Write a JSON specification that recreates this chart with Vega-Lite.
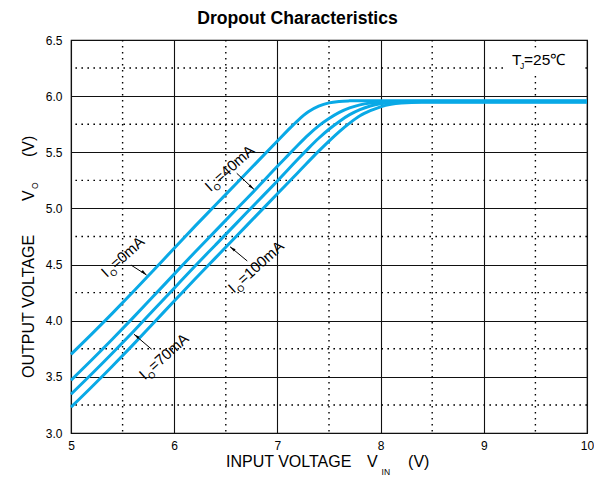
{
  "$schema": "https://vega.github.io/schema/vega-lite/v6.json",
  "width": 516,
  "height": 393,
  "autosize": "none",
  "padding": {"left": 71, "top": 40, "right": 7, "bottom": 48},
  "background": "white",
  "config": {
    "font": "Liberation Sans",
    "view": {"stroke": "#000", "strokeWidth": 1.2},
    "axis": {"domain": false, "ticks": false, "grid": true, "gridColor": "#111", "gridWidth": 1.1, "gridOpacity": 1, "labelFont": "Liberation Sans", "labelFontSize": 12, "labelColor": "#000", "labelFlush": false},
    "axisX": {"labelPadding": 7},
    "axisY": {"labelPadding": 9}
  },
  "datasets": {
    "minorX": [{"mx": 5.5}, {"mx": 6.5}, {"mx": 7.5}, {"mx": 8.5}, {"mx": 9.5}],
    "minorY": [{"my": 3.25}, {"my": 3.75}, {"my": 4.25}, {"my": 4.75}, {"my": 5.25}, {"my": 5.75}, {"my": 6.25}],
    "box": [{"bx1": 9.2, "bx2": 9.95, "by1": 6.19, "by2": 6.43}],
    "curves": [
      {"series": "0mA", "vin": 5.0, "vout": 3.70}, {"series": "0mA", "vin": 5.2, "vout": 3.88}, {"series": "0mA", "vin": 5.4, "vout": 4.065}, {"series": "0mA", "vin": 5.6, "vout": 4.255}, {"series": "0mA", "vin": 5.8, "vout": 4.45}, {"series": "0mA", "vin": 6.0, "vout": 4.645}, {"series": "0mA", "vin": 6.2, "vout": 4.84}, {"series": "0mA", "vin": 6.4, "vout": 5.03}, {"series": "0mA", "vin": 6.6, "vout": 5.22}, {"series": "0mA", "vin": 6.8, "vout": 5.41}, {"series": "0mA", "vin": 7.0, "vout": 5.60}, {"series": "0mA", "vin": 7.1, "vout": 5.695}, {"series": "0mA", "vin": 7.2, "vout": 5.785}, {"series": "0mA", "vin": 7.3, "vout": 5.86}, {"series": "0mA", "vin": 7.4, "vout": 5.91}, {"series": "0mA", "vin": 7.5, "vout": 5.94}, {"series": "0mA", "vin": 7.6, "vout": 5.953}, {"series": "0mA", "vin": 7.7, "vout": 5.958}, {"series": "0mA", "vin": 7.8, "vout": 5.96}, {"series": "0mA", "vin": 8.5, "vout": 5.96}, {"series": "0mA", "vin": 10.0, "vout": 5.96},
      {"series": "40mA", "vin": 5.0, "vout": 3.47}, {"series": "40mA", "vin": 5.2, "vout": 3.65}, {"series": "40mA", "vin": 5.4, "vout": 3.835}, {"series": "40mA", "vin": 5.6, "vout": 4.025}, {"series": "40mA", "vin": 5.8, "vout": 4.22}, {"series": "40mA", "vin": 6.0, "vout": 4.415}, {"series": "40mA", "vin": 6.2, "vout": 4.61}, {"series": "40mA", "vin": 6.4, "vout": 4.80}, {"series": "40mA", "vin": 6.6, "vout": 4.99}, {"series": "40mA", "vin": 6.8, "vout": 5.18}, {"series": "40mA", "vin": 7.0, "vout": 5.375}, {"series": "40mA", "vin": 7.1, "vout": 5.47}, {"series": "40mA", "vin": 7.2, "vout": 5.565}, {"series": "40mA", "vin": 7.3, "vout": 5.655}, {"series": "40mA", "vin": 7.4, "vout": 5.735}, {"series": "40mA", "vin": 7.5, "vout": 5.80}, {"series": "40mA", "vin": 7.6, "vout": 5.855}, {"series": "40mA", "vin": 7.7, "vout": 5.895}, {"series": "40mA", "vin": 7.8, "vout": 5.922}, {"series": "40mA", "vin": 7.9, "vout": 5.938}, {"series": "40mA", "vin": 8.0, "vout": 5.947}, {"series": "40mA", "vin": 8.2, "vout": 5.953}, {"series": "40mA", "vin": 8.5, "vout": 5.955}, {"series": "40mA", "vin": 10.0, "vout": 5.955},
      {"series": "70mA", "vin": 5.0, "vout": 3.345}, {"series": "70mA", "vin": 5.2, "vout": 3.525}, {"series": "70mA", "vin": 5.4, "vout": 3.71}, {"series": "70mA", "vin": 5.6, "vout": 3.90}, {"series": "70mA", "vin": 5.8, "vout": 4.095}, {"series": "70mA", "vin": 6.0, "vout": 4.29}, {"series": "70mA", "vin": 6.2, "vout": 4.485}, {"series": "70mA", "vin": 6.4, "vout": 4.675}, {"series": "70mA", "vin": 6.6, "vout": 4.865}, {"series": "70mA", "vin": 6.8, "vout": 5.055}, {"series": "70mA", "vin": 7.0, "vout": 5.245}, {"series": "70mA", "vin": 7.2, "vout": 5.44}, {"series": "70mA", "vin": 7.3, "vout": 5.535}, {"series": "70mA", "vin": 7.4, "vout": 5.625}, {"series": "70mA", "vin": 7.5, "vout": 5.705}, {"series": "70mA", "vin": 7.6, "vout": 5.775}, {"series": "70mA", "vin": 7.7, "vout": 5.835}, {"series": "70mA", "vin": 7.8, "vout": 5.88}, {"series": "70mA", "vin": 7.9, "vout": 5.912}, {"series": "70mA", "vin": 8.0, "vout": 5.932}, {"series": "70mA", "vin": 8.1, "vout": 5.943}, {"series": "70mA", "vin": 8.3, "vout": 5.95}, {"series": "70mA", "vin": 10.0, "vout": 5.95},
      {"series": "100mA", "vin": 5.0, "vout": 3.23}, {"series": "100mA", "vin": 5.2, "vout": 3.41}, {"series": "100mA", "vin": 5.4, "vout": 3.595}, {"series": "100mA", "vin": 5.6, "vout": 3.785}, {"series": "100mA", "vin": 5.8, "vout": 3.98}, {"series": "100mA", "vin": 6.0, "vout": 4.175}, {"series": "100mA", "vin": 6.2, "vout": 4.37}, {"series": "100mA", "vin": 6.4, "vout": 4.56}, {"series": "100mA", "vin": 6.6, "vout": 4.75}, {"series": "100mA", "vin": 6.8, "vout": 4.94}, {"series": "100mA", "vin": 7.0, "vout": 5.13}, {"series": "100mA", "vin": 7.2, "vout": 5.32}, {"series": "100mA", "vin": 7.4, "vout": 5.51}, {"series": "100mA", "vin": 7.5, "vout": 5.60}, {"series": "100mA", "vin": 7.6, "vout": 5.685}, {"series": "100mA", "vin": 7.7, "vout": 5.76}, {"series": "100mA", "vin": 7.8, "vout": 5.825}, {"series": "100mA", "vin": 7.9, "vout": 5.87}, {"series": "100mA", "vin": 8.0, "vout": 5.905}, {"series": "100mA", "vin": 8.1, "vout": 5.927}, {"series": "100mA", "vin": 8.2, "vout": 5.938}, {"series": "100mA", "vin": 8.4, "vout": 5.945}, {"series": "100mA", "vin": 10.0, "vout": 5.945}
    ],
    "labels": [
      {"lx": 5.347, "ly": 4.381, "rest": "=0mA"},
      {"lx": 6.351, "ly": 5.145, "rest": "=40mA"},
      {"lx": 6.578, "ly": 4.241, "rest": "=100mA"},
      {"lx": 5.715, "ly": 3.468, "rest": "=70mA"}
    ],
    "arrows": [
      {"ax": 5.581, "ay": 4.496, "bx": 5.732, "by": 4.407, "dir": "dr"},
      {"ax": 6.606, "ay": 5.313, "bx": 6.773, "by": 5.17, "dir": "dr"},
      {"ax": 6.708, "ay": 4.532, "bx": 6.541, "by": 4.659, "dir": "ul"},
      {"ax": 5.782, "ay": 3.745, "bx": 5.61, "by": 3.88, "dir": "ul"}
    ],
    "notes": [
      {"nx": 7.195, "ny": 6.642, "txt": "Dropout Characteristics", "role": "ti"},
      {"nx": 6.502, "ny": 2.697, "txt": "INPUT VOLTAGE", "role": "xt"},
      {"nx": 7.868, "ny": 2.697, "txt": "V", "role": "xt"},
      {"nx": 8.266, "ny": 2.697, "txt": "(V)", "role": "xt"},
      {"nx": 8.009, "ny": 2.63, "txt": "IN", "role": "xs"},
      {"nx": 4.641, "ny": 3.49, "txt": "OUTPUT VOLTAGE", "role": "yt"},
      {"nx": 4.641, "ny": 5.066, "txt": "V", "role": "yt"},
      {"nx": 4.641, "ny": 5.458, "txt": "(V)", "role": "yt"},
      {"nx": 4.68, "ny": 5.173, "txt": "O", "role": "ys"},
      {"nx": 9.273, "ny": 6.277, "txt": "T", "role": "tm"},
      {"nx": 9.39, "ny": 6.277, "txt": "=25℃", "role": "tm"},
      {"nx": 9.35, "ny": 6.24, "txt": "J", "role": "ts"}
    ]
  },
  "layer": [
    {
      "data": {"name": "minorX"},
      "mark": {"type": "rule", "color": "#000", "strokeWidth": 1.4, "strokeDash": [1.6, 4.4]},
      "encoding": {
        "x": {"field": "mx", "type": "quantitative", "scale": {"domain": [5, 10], "nice": false, "zero": false}, "axis": {"values": [5, 6, 7, 8, 9, 10], "format": "d", "title": null}}
      }
    },
    {
      "data": {"name": "minorY"},
      "mark": {"type": "rule", "color": "#000", "strokeWidth": 1.4, "strokeDash": [1.6, 4.4]},
      "encoding": {
        "y": {"field": "my", "type": "quantitative", "scale": {"domain": [3, 6.5], "nice": false, "zero": false}, "axis": {"values": [3, 3.5, 4, 4.5, 5, 5.5, 6, 6.5], "format": ".1f", "title": null}}
      }
    },
    {
      "data": {"name": "box"},
      "mark": {"type": "rect", "fill": "white"},
      "encoding": {
        "x": {"field": "bx1", "type": "quantitative", "axis": {"values": [5, 6, 7, 8, 9, 10], "format": "d", "title": null}},
        "x2": {"field": "bx2"},
        "y": {"field": "by1", "type": "quantitative", "axis": {"values": [3, 3.5, 4, 4.5, 5, 5.5, 6, 6.5], "format": ".1f", "title": null}},
        "y2": {"field": "by2"}
      }
    },
    {
      "data": {"name": "curves"},
      "mark": {"type": "line", "color": "#09a9e6", "strokeWidth": 3, "interpolate": "monotone"},
      "encoding": {
        "x": {"field": "vin", "type": "quantitative", "axis": {"values": [5, 6, 7, 8, 9, 10], "format": "d", "title": null}},
        "y": {"field": "vout", "type": "quantitative", "axis": {"values": [3, 3.5, 4, 4.5, 5, 5.5, 6, 6.5], "format": ".1f", "title": null}},
        "detail": {"field": "series"}
      }
    },
    {
      "data": {"name": "arrows"},
      "mark": {"type": "rule", "color": "#000", "strokeWidth": 1},
      "encoding": {
        "x": {"field": "ax", "type": "quantitative", "axis": {"values": [5, 6, 7, 8, 9, 10], "format": "d", "title": null}},
        "y": {"field": "ay", "type": "quantitative", "axis": {"values": [3, 3.5, 4, 4.5, 5, 5.5, 6, 6.5], "format": ".1f", "title": null}},
        "x2": {"field": "bx"},
        "y2": {"field": "by"}
      }
    },
    {
      "data": {"name": "arrows"},
      "transform": [{"filter": "datum.dir === 'dr'"}],
      "mark": {"type": "point", "shape": "M0,0L0.45,2L-0.45,2Z", "filled": true, "color": "#000", "size": 36, "angle": 130, "opacity": 1, "strokeWidth": 0},
      "encoding": {
        "x": {"field": "bx", "type": "quantitative", "axis": {"values": [5, 6, 7, 8, 9, 10], "format": "d", "title": null}},
        "y": {"field": "by", "type": "quantitative", "axis": {"values": [3, 3.5, 4, 4.5, 5, 5.5, 6, 6.5], "format": ".1f", "title": null}}
      }
    },
    {
      "data": {"name": "arrows"},
      "transform": [{"filter": "datum.dir === 'ul'"}],
      "mark": {"type": "point", "shape": "M0,0L0.45,2L-0.45,2Z", "filled": true, "color": "#000", "size": 36, "angle": 308, "opacity": 1, "strokeWidth": 0},
      "encoding": {
        "x": {"field": "bx", "type": "quantitative", "axis": {"values": [5, 6, 7, 8, 9, 10], "format": "d", "title": null}},
        "y": {"field": "by", "type": "quantitative", "axis": {"values": [3, 3.5, 4, 4.5, 5, 5.5, 6, 6.5], "format": ".1f", "title": null}}
      }
    },
    {
      "data": {"name": "labels"},
      "mark": {"type": "text", "angle": -42, "align": "left", "baseline": "alphabetic", "fontSize": 15, "font": "Liberation Sans", "color": "#000"},
      "encoding": {
        "x": {"field": "lx", "type": "quantitative", "axis": {"values": [5, 6, 7, 8, 9, 10], "format": "d", "title": null}},
        "y": {"field": "ly", "type": "quantitative", "axis": {"values": [3, 3.5, 4, 4.5, 5, 5.5, 6, 6.5], "format": ".1f", "title": null}},
        "text": {"value": "I"}
      }
    },
    {
      "data": {"name": "labels"},
      "mark": {"type": "text", "angle": -42, "align": "left", "baseline": "alphabetic", "fontSize": 9, "font": "Liberation Sans", "color": "#000", "dx": 5, "dy": 4},
      "encoding": {
        "x": {"field": "lx", "type": "quantitative", "axis": {"values": [5, 6, 7, 8, 9, 10], "format": "d", "title": null}},
        "y": {"field": "ly", "type": "quantitative", "axis": {"values": [3, 3.5, 4, 4.5, 5, 5.5, 6, 6.5], "format": ".1f", "title": null}},
        "text": {"value": "O"}
      }
    },
    {
      "data": {"name": "labels"},
      "mark": {"type": "text", "angle": -42, "align": "left", "baseline": "alphabetic", "fontSize": 15, "font": "Liberation Sans", "color": "#000", "dx": 12.5},
      "encoding": {
        "x": {"field": "lx", "type": "quantitative", "axis": {"values": [5, 6, 7, 8, 9, 10], "format": "d", "title": null}},
        "y": {"field": "ly", "type": "quantitative", "axis": {"values": [3, 3.5, 4, 4.5, 5, 5.5, 6, 6.5], "format": ".1f", "title": null}},
        "text": {"field": "rest"}
      }
    },
    {
      "data": {"name": "notes"},
      "transform": [{"filter": "datum.role === 'ti'"}],
      "mark": {"type": "text", "align": "center", "baseline": "alphabetic", "fontSize": 17.6, "fontWeight": "bold", "font": "Liberation Sans", "color": "#000"},
      "encoding": {
        "x": {"field": "nx", "type": "quantitative", "axis": {"values": [5, 6, 7, 8, 9, 10], "format": "d", "title": null}},
        "y": {"field": "ny", "type": "quantitative", "axis": {"values": [3, 3.5, 4, 4.5, 5, 5.5, 6, 6.5], "format": ".1f", "title": null}},
        "text": {"field": "txt"}
      }
    },
    {
      "data": {"name": "notes"},
      "transform": [{"filter": "datum.role === 'xt'"}],
      "mark": {"type": "text", "align": "left", "baseline": "alphabetic", "fontSize": 16, "font": "Liberation Sans", "color": "#000"},
      "encoding": {
        "x": {"field": "nx", "type": "quantitative", "axis": {"values": [5, 6, 7, 8, 9, 10], "format": "d", "title": null}},
        "y": {"field": "ny", "type": "quantitative", "axis": {"values": [3, 3.5, 4, 4.5, 5, 5.5, 6, 6.5], "format": ".1f", "title": null}},
        "text": {"field": "txt"}
      }
    },
    {
      "data": {"name": "notes"},
      "transform": [{"filter": "datum.role === 'xs'"}],
      "mark": {"type": "text", "align": "left", "baseline": "alphabetic", "fontSize": 8.5, "font": "Liberation Sans", "color": "#000"},
      "encoding": {
        "x": {"field": "nx", "type": "quantitative", "axis": {"values": [5, 6, 7, 8, 9, 10], "format": "d", "title": null}},
        "y": {"field": "ny", "type": "quantitative", "axis": {"values": [3, 3.5, 4, 4.5, 5, 5.5, 6, 6.5], "format": ".1f", "title": null}},
        "text": {"field": "txt"}
      }
    },
    {
      "data": {"name": "notes"},
      "transform": [{"filter": "datum.role === 'yt'"}],
      "mark": {"type": "text", "angle": -90, "align": "left", "baseline": "alphabetic", "fontSize": 16, "font": "Liberation Sans", "color": "#000"},
      "encoding": {
        "x": {"field": "nx", "type": "quantitative", "axis": {"values": [5, 6, 7, 8, 9, 10], "format": "d", "title": null}},
        "y": {"field": "ny", "type": "quantitative", "axis": {"values": [3, 3.5, 4, 4.5, 5, 5.5, 6, 6.5], "format": ".1f", "title": null}},
        "text": {"field": "txt"}
      }
    },
    {
      "data": {"name": "notes"},
      "transform": [{"filter": "datum.role === 'ys'"}],
      "mark": {"type": "text", "angle": -90, "align": "left", "baseline": "alphabetic", "fontSize": 8.5, "font": "Liberation Sans", "color": "#000"},
      "encoding": {
        "x": {"field": "nx", "type": "quantitative", "axis": {"values": [5, 6, 7, 8, 9, 10], "format": "d", "title": null}},
        "y": {"field": "ny", "type": "quantitative", "axis": {"values": [3, 3.5, 4, 4.5, 5, 5.5, 6, 6.5], "format": ".1f", "title": null}},
        "text": {"field": "txt"}
      }
    },
    {
      "data": {"name": "notes"},
      "transform": [{"filter": "datum.role === 'tm'"}],
      "mark": {"type": "text", "align": "left", "baseline": "alphabetic", "fontSize": 15.5, "font": "Liberation Sans", "color": "#000"},
      "encoding": {
        "x": {"field": "nx", "type": "quantitative", "axis": {"values": [5, 6, 7, 8, 9, 10], "format": "d", "title": null}},
        "y": {"field": "ny", "type": "quantitative", "axis": {"values": [3, 3.5, 4, 4.5, 5, 5.5, 6, 6.5], "format": ".1f", "title": null}},
        "text": {"field": "txt"}
      }
    },
    {
      "data": {"name": "notes"},
      "transform": [{"filter": "datum.role === 'ts'"}],
      "mark": {"type": "text", "align": "left", "baseline": "alphabetic", "fontSize": 8.5, "font": "Liberation Sans", "color": "#000"},
      "encoding": {
        "x": {"field": "nx", "type": "quantitative", "axis": {"values": [5, 6, 7, 8, 9, 10], "format": "d", "title": null}},
        "y": {"field": "ny", "type": "quantitative", "axis": {"values": [3, 3.5, 4, 4.5, 5, 5.5, 6, 6.5], "format": ".1f", "title": null}},
        "text": {"field": "txt"}
      }
    }
  ]
}
